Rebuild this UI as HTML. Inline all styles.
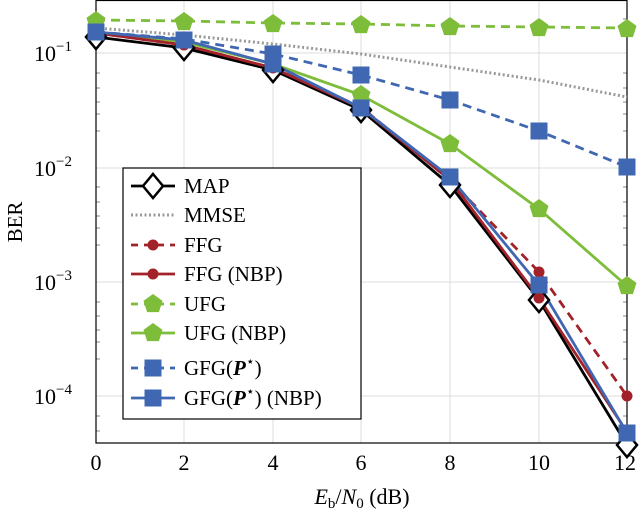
<!DOCTYPE html>
<html><head><style>body{margin:0;background:#fff}svg{display:block}text{font-family:"Liberation Serif",serif;fill:#000}</style></head><body>
<svg width="640" height="514" viewBox="0 0 640 514" xmlns="http://www.w3.org/2000/svg">
<defs>
<g id="dia"><path d="M0,-12 L10,0 L0,12 L-10,0 Z" fill="#fff" stroke="#000" stroke-width="2.5"/></g>
<g id="cir"><circle r="5.5" fill="#a3222a"/></g>
<g id="pen"><path d="M0,-10 L9.5,-3.1 L5.9,8.1 L-5.9,8.1 L-9.5,-3.1 Z" fill="#7dbd3a"/></g>
<g id="sq"><rect x="-8.5" y="-8.5" width="17" height="17" fill="#4067b1"/></g>
</defs>
<g stroke="#ddd" stroke-width="1">
<line x1="184" y1="0" x2="184" y2="443"/><line x1="273" y1="0" x2="273" y2="443"/><line x1="361" y1="0" x2="361" y2="443"/><line x1="450" y1="0" x2="450" y2="443"/><line x1="539" y1="0" x2="539" y2="443"/>
<line x1="96" y1="53" x2="627" y2="53"/><line x1="96" y1="168" x2="627" y2="168"/><line x1="96" y1="282" x2="627" y2="282"/><line x1="96" y1="396" x2="627" y2="396"/>
</g>
<g stroke="#888" stroke-width="1">
<path d="M96,19h4M96,33h4M96,131h4M96,114h4M96,102h4M96,88h4M96,73h4M96,245h4M96,228h4M96,216h4M96,202h4M96,187h4M96,359h4M96,342h4M96,330h4M96,316h4M96,302h4M96,431h4M96,416h4M623,19h4M623,33h4M623,131h4M623,114h4M623,102h4M623,88h4M623,73h4M623,245h4M623,228h4M623,216h4M623,202h4M623,187h4M623,359h4M623,342h4M623,330h4M623,316h4M623,302h4M623,431h4M623,416h4"/>
</g>
<rect x="96" y="0.5" width="531" height="442.5" fill="none" stroke="#000" stroke-width="1.2"/>
<g fill="none" stroke-width="2.8">
<polyline points="96,28 184,35 273,44 361,54 450,67 539,80 627,97" stroke="#999" stroke-dasharray="2,2.5" stroke-width="3"/>
<polyline points="96,20 184,21 273,23 361,24 450,26 539,27 627,28" stroke="#7dbd3a" stroke-dasharray="9,6"/>
<polyline points="96,32 184,39 273,54 361,75 450,100 539,131 627,167" stroke="#4067b1" stroke-dasharray="9,6"/>
<polyline points="96,32 184,42 273,64 361,95 450,144 539,209 627,286" stroke="#7dbd3a"/>
<polyline points="96,37 184,48 273,70 361,110 450,185 539,300 627,445" stroke="#000"/>
<polyline points="96,33 184,45 273,68 361,107 450,180 539,272 627,396" stroke="#a3222a" stroke-dasharray="9,6"/>
<polyline points="96,33 184,45 273,68 361,108 450,180 539,298 627,432" stroke="#a3222a"/>
<polyline points="96,32 184,40 273,64 361,108 450,177 539,285 627,433" stroke="#4067b1"/>
</g>
<g>
<use href="#dia" x="96" y="37"/><use href="#dia" x="184" y="48"/><use href="#dia" x="273" y="70"/><use href="#dia" x="361" y="110"/><use href="#dia" x="450" y="185"/><use href="#dia" x="539" y="300"/><use href="#dia" x="627" y="445"/>
<use href="#cir" x="96" y="33"/><use href="#cir" x="184" y="45"/><use href="#cir" x="273" y="68"/><use href="#cir" x="361" y="107"/><use href="#cir" x="450" y="180"/><use href="#cir" x="539" y="272"/><use href="#cir" x="627" y="396"/><use href="#cir" x="539" y="298"/><use href="#cir" x="627" y="432"/>
<use href="#pen" x="96" y="21"/><use href="#pen" x="184" y="22"/><use href="#pen" x="273" y="24"/><use href="#pen" x="361" y="25"/><use href="#pen" x="450" y="27"/><use href="#pen" x="539" y="28"/><use href="#pen" x="627" y="29"/>
<use href="#pen" x="361" y="95"/><use href="#pen" x="450" y="144"/><use href="#pen" x="539" y="209"/><use href="#pen" x="627" y="286"/>
<use href="#sq" x="96" y="32"/><use href="#sq" x="184" y="40"/><use href="#sq" x="273" y="54"/><use href="#sq" x="361" y="75"/><use href="#sq" x="450" y="100"/><use href="#sq" x="539" y="131"/><use href="#sq" x="627" y="167"/>
<use href="#sq" x="273" y="64"/><use href="#sq" x="361" y="108"/><use href="#sq" x="450" y="177"/><use href="#sq" x="539" y="285"/><use href="#sq" x="627" y="433"/>
</g>
<rect x="123" y="168" width="238" height="251" fill="#fff" stroke="#000" stroke-width="1.2"/>
<g fill="none" stroke-width="2.8">
<line x1="131" y1="186" x2="175" y2="186" stroke="#000"/>
<line x1="131" y1="215" x2="175" y2="215" stroke="#999" stroke-dasharray="2,2.5" stroke-width="3"/>
<line x1="131" y1="245" x2="175" y2="245" stroke="#a3222a" stroke-dasharray="7,6"/>
<line x1="131" y1="274" x2="175" y2="274" stroke="#a3222a"/>
<line x1="131" y1="304" x2="175" y2="304" stroke="#7dbd3a" stroke-dasharray="7,6"/>
<line x1="131" y1="333" x2="175" y2="333" stroke="#7dbd3a"/>
<line x1="131" y1="368" x2="175" y2="368" stroke="#4067b1" stroke-dasharray="7,6"/>
<line x1="131" y1="398" x2="175" y2="398" stroke="#4067b1"/>
</g>
<use href="#dia" x="153" y="186"/><use href="#cir" x="153" y="245"/><use href="#cir" x="153" y="274"/><use href="#pen" x="153" y="304"/><use href="#pen" x="153" y="333"/><use href="#sq" x="153" y="368"/><use href="#sq" x="153" y="398"/>
<g font-size="21">
<text x="184" y="193">MAP</text>
<text x="184" y="222">MMSE</text>
<text x="184" y="252">FFG</text>
<text x="184" y="281">FFG (NBP)</text>
<text x="184" y="311">UFG</text>
<text x="184" y="340">UFG (NBP)</text>
<text x="184" y="375">GFG(<tspan font-weight="bold" font-style="italic">P</tspan><tspan font-size="14" dy="-9">⋆</tspan><tspan dy="9">)</tspan></text>
<text x="184" y="405">GFG(<tspan font-weight="bold" font-style="italic">P</tspan><tspan font-size="14" dy="-9">⋆</tspan><tspan dy="9">) (NBP)</tspan></text>
</g>
<g font-size="22" text-anchor="middle">
<text x="96" y="470">0</text><text x="184" y="470">2</text><text x="273" y="470">4</text><text x="361" y="470">6</text><text x="450" y="470">8</text><text x="539" y="470">10</text><text x="625" y="470">12</text>
</g>
<g font-size="22">
<text x="34" y="61">10<tspan font-size="15" dy="-10">−1</tspan></text>
<text x="34" y="176">10<tspan font-size="15" dy="-10">−2</tspan></text>
<text x="34" y="290">10<tspan font-size="15" dy="-10">−3</tspan></text>
<text x="34" y="404">10<tspan font-size="15" dy="-10">−4</tspan></text>
</g>
<text x="362" y="504" font-size="22" text-anchor="middle"><tspan font-style="italic">E</tspan><tspan font-size="15" dy="4">b</tspan><tspan dy="-4">/</tspan><tspan font-style="italic">N</tspan><tspan font-size="15" dy="4">0</tspan><tspan dy="-4"> (dB)</tspan></text>
<text transform="translate(22,222) rotate(-90)" font-size="21" text-anchor="middle">BER</text>
</svg>
</body></html>
